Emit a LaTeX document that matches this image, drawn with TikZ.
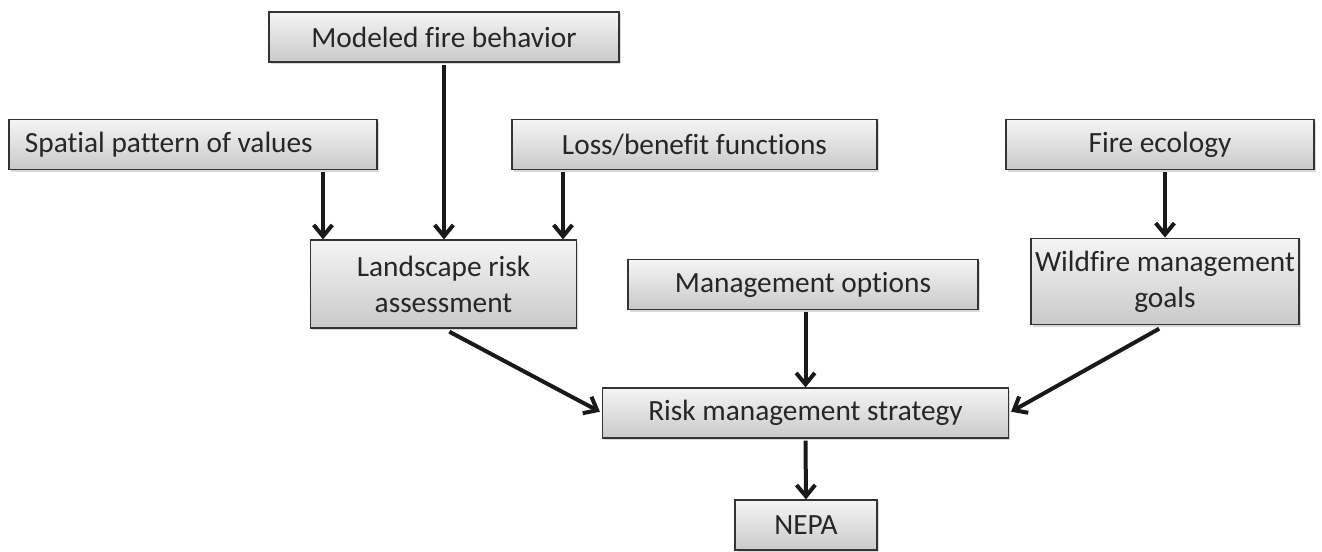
\documentclass[tikz,border=0pt]{standalone}
\usepackage{fontspec}
\setmainfont[Ligatures=CommonOff]{Carlito}
\usetikzlibrary{arrows.meta,shadows}

\tikzset{
  box/.style={draw=black!80, line width=0.9pt, top color=gray!8, bottom color=gray!42,
    drop shadow={opacity=0.3, shadow xshift=1.2pt, shadow yshift=-1.5pt},
    minimum height=37.5pt, inner sep=1pt, align=center, text=black!85,
    font=\fontsize{22}{27}\selectfont},
  flow/.style={line width=3pt, draw=black!90, -{Straight Barb[length=8.5pt,width=14pt]}}
}

\begin{document}
\begin{tikzpicture}[x=0.75pt,y=0.75pt,yscale=-1,xscale=1]
    %set diagram size: 1322 by 551
    \useasboundingbox (0,0) rectangle (1322,551);

    %Shape: Rectangle [top row]
    \node (model) at (444,37) [box, minimum width=262.5pt] {Modeled fire behavior};
    \node (spatial) at (193,144.5) [box, text width=252pt, inner xsep=12pt, align=flush left] {Spatial pattern of values};
    \node (loss) at (694.5,144.5) [box, minimum width=273.75pt] {Loss/benefit functions};
    \node (ecology) at (1160,144.5) [box, minimum width=231pt] {Fire ecology};
    %Shape: Rectangle [middle row]
    \node (landscape) at (443.5,284) [box, minimum width=200pt, minimum height=66pt] {Landscape risk\\assessment};
    \node (options) at (803,284.5) [box, minimum width=262.5pt] {Management options};
    \node (wildfire) at (1165,281.5) [box, minimum width=201pt, minimum height=65pt] {Wildfire management\\goals};
    %Shape: Rectangle [bottom]
    \node (risk) at (805.5,413) [box, minimum width=304pt] {Risk management strategy};
    \node (nepa) at (806,525) [box, minimum width=106.5pt] {NEPA};

    %arrow columns
    \coordinate (c1) at (323,0);
    \coordinate (c2) at (563,0);

    %Straight Lines
    \draw [flow] (spatial.south -| c1) ++(0,2) -- (landscape.north -| c1);
    \draw [flow] (model.south) ++(0,2) -- (model.south |- landscape.north);
    \draw [flow] (loss.south -| c2) ++(0,2) -- (landscape.north -| c2);
    \draw [flow] (ecology.south -| wildfire.north) ++(0,2) -- (wildfire.north);
    \draw [flow] (options.south -| risk.north) ++(0,2) -- (risk.north);
    \draw [flow] (risk.south) ++(0,2) -- (nepa.north);
    \draw [flow, shorten <=5pt, shorten >=2pt] (landscape.south) -- (risk.west);
    \draw [flow, shorten <=5pt, shorten >=2pt] (wildfire.south) -- (risk.east);

\end{tikzpicture}
\end{document}
